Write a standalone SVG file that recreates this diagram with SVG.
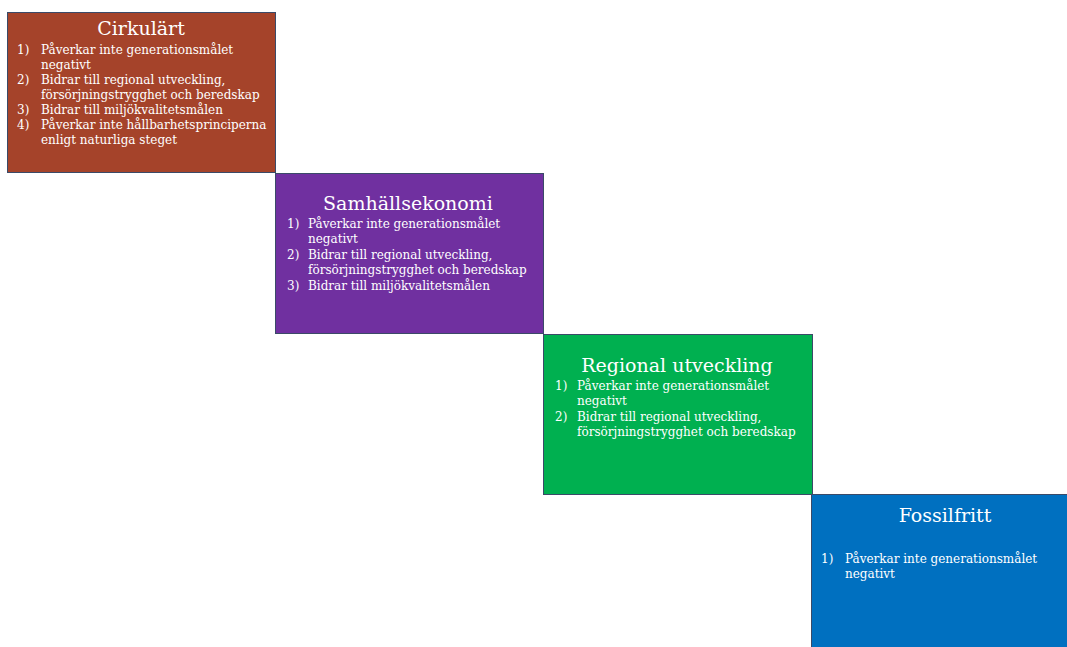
<svg xmlns="http://www.w3.org/2000/svg" width="1067" height="647" viewBox="0 0 1067 647">
<style>
.box{stroke:#3b4a68;stroke-width:1}
.t{font-family:"DejaVu Serif","Liberation Serif",serif;fill:#fff;font-size:19px;text-anchor:middle}
.i{font-family:"DejaVu Serif","Liberation Serif",serif;fill:#fff;font-size:12px}
</style>
<rect width="1067" height="647" fill="#fff"/>
<g id="cirkulart">
<rect class="box" x="7.5" y="12.5" width="268" height="160" fill="#A5432A"/>
<text class="t" x="141" y="35">Cirkulärt</text>
<text class="i" x="17" y="54">1)</text><text class="i" x="41" y="54">Påverkar inte generationsmålet</text>
<text class="i" x="41" y="69">negativt</text>
<text class="i" x="17" y="84">2)</text><text class="i" x="41" y="84">Bidrar till regional utveckling,</text>
<text class="i" x="41" y="99">försörjningstrygghet och beredskap</text>
<text class="i" x="17" y="114">3)</text><text class="i" x="41" y="114">Bidrar till miljökvalitetsmålen</text>
<text class="i" x="17" y="129">4)</text><text class="i" x="41" y="129">Påverkar inte hållbarhetsprinciperna</text>
<text class="i" x="41" y="144">enligt naturliga steget</text>
</g>
<g id="samhallsekonomi">
<rect class="box" x="275.5" y="173.5" width="268" height="160" fill="#7030A0"/>
<text class="t" x="408" y="210">Samhällsekonomi</text>
<text class="i" x="287" y="228">1)</text><text class="i" x="308" y="228">Påverkar inte generationsmålet</text>
<text class="i" x="308" y="243">negativt</text>
<text class="i" x="287" y="259">2)</text><text class="i" x="308" y="259">Bidrar till regional utveckling,</text>
<text class="i" x="308" y="274">försörjningstrygghet och beredskap</text>
<text class="i" x="287" y="290">3)</text><text class="i" x="308" y="290">Bidrar till miljökvalitetsmålen</text>
</g>
<g id="regional">
<rect class="box" x="543.5" y="334.5" width="269" height="160" fill="#00B050"/>
<text class="t" x="677" y="372">Regional utveckling</text>
<text class="i" x="555" y="390">1)</text><text class="i" x="577" y="390">Påverkar inte generationsmålet</text>
<text class="i" x="577" y="405">negativt</text>
<text class="i" x="555" y="421">2)</text><text class="i" x="577" y="421">Bidrar till regional utveckling,</text>
<text class="i" x="577" y="436">försörjningstrygghet och beredskap</text>
</g>
<g id="fossilfritt">
<rect class="box" x="811.5" y="494.5" width="260" height="160" fill="#0070C0"/>
<text class="t" x="945" y="522">Fossilfritt</text>
<text class="i" x="821" y="563">1)</text><text class="i" x="845" y="563">Påverkar inte generationsmålet</text>
<text class="i" x="845" y="578">negativt</text>
</g>
<g id="connectors"></g>
</svg>
